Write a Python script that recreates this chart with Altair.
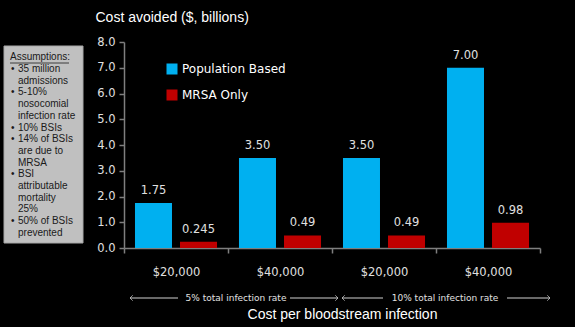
import altair as alt
import pandas as pd

# ---- data ----
groups = ["5%", "5%", "10%", "10%"]
costs = ["$20,000", "$40,000", "$20,000", "$40,000"]
population = [1.75, 3.50, 3.50, 7.00]
mrsa = [0.245, 0.49, 0.49, 0.98]
pop_labels = ["1.75", "3.50", "3.50", "7.00"]
mrsa_labels = ["0.245", "0.49", "0.49", "0.98"]
series = ["Population Based", "MRSA Only"]
colors = ["#00B0F0", "#C00000"]
y_ticks = [0, 1, 2, 3, 4, 5, 6, 7, 8]

assumption_lines = [
    "35 million", "admissions", "5-10%", "nosocomial", "infection rate",
    "10% BSIs", "14% of BSIs", "are due to", "MRSA", "BSI", "attributable",
    "mortality", "25%", "50% of BSIs", "prevented",
]
bullet_line_index = [0, 2, 5, 6, 9, 13]

cats = [f"{g}|{c}" for g, c in zip(groups, costs)]
rows = []
for i, cat in enumerate(cats):
    rows.append({"cat": cat, "series": series[0], "value": population[i], "label": pop_labels[i]})
    rows.append({"cat": cat, "series": series[1], "value": mrsa[i], "label": mrsa_labels[i]})
df = pd.DataFrame(rows)
one = pd.DataFrame({"k": [0]})

LABEL_COLOR = "#E0E0E0"
AXIS_COLOR = "#7F7F7F"

x_enc = alt.X(
    "cat:N", sort=cats,
    scale=alt.Scale(paddingInner=0, paddingOuter=0),
    axis=alt.Axis(
        labelExpr="split(datum.label, '|')[1]", labelAngle=0,
        tickBand="extent", tickSize=5, tickColor=AXIS_COLOR, domainColor=AXIS_COLOR,
        domainWidth=1.5, tickWidth=1.5,
        labelFont="DejaVu Sans", labelFontSize=11.5, labelColor=LABEL_COLOR, labelPadding=13,
        title="Cost per bloodstream infection", titleFont="Liberation Sans",
        titleFontSize=14, titleFontWeight="normal", titleColor="#FFFFFF",
        titleY=70, titleX=218, titleBaseline="alphabetic",
    ),
)
xoff = alt.XOffset("series:N", sort=series,
                   scale=alt.Scale(paddingInner=0.178, paddingOuter=0.244))
y_enc = alt.Y(
    "value:Q", scale=alt.Scale(domain=[0, 8], nice=False),
    axis=alt.Axis(
        values=y_ticks, format=".1f", grid=False, tickSize=5, labelOverlap=False,
        tickColor=AXIS_COLOR, domainColor=AXIS_COLOR, domainWidth=1.5, tickWidth=1.5,
        labelFont="DejaVu Sans", labelFontSize=11.5, labelColor=LABEL_COLOR, labelPadding=4,
        title="Cost avoided ($, billions)", titleAngle=0, titleX=-29, titleY=-21,
        titleAlign="left", titleBaseline="alphabetic", titleFont="Liberation Sans",
        titleFontSize=14, titleFontWeight="normal", titleColor="#FFFFFF",
    ),
)

bars = alt.Chart(df).mark_bar().encode(
    x=x_enc, xOffset=xoff, y=y_enc,
    color=alt.Color(
        "series:N", sort=series,
        scale=alt.Scale(domain=series, range=colors),
        legend=alt.Legend(
            title=None, orient="none", legendX=42, legendY=21,
            symbolType="square", symbolSize=121, symbolStrokeWidth=0,
            labelFont="DejaVu Sans", labelFontSize=12, labelColor="#FFFFFF",
            labelOffset=4, rowPadding=14,
        ),
    ),
)

labels = alt.Chart(df).mark_text(
    baseline="bottom", dy=-7, font="DejaVu Sans", fontSize=11.5, color=LABEL_COLOR
).encode(x=x_enc, xOffset=xoff, y=y_enc, text="label:N")

# Assumptions box
LH = 11.7
TOP = 22
box = alt.Chart(one).mark_rect(color="#C0C0C0", stroke="#A6A6A6", strokeWidth=1).encode(
    x=alt.value(-120), x2=alt.value(-41), y=alt.value(4), y2=alt.value(201)
)
header = alt.Chart(one).mark_text(
    text="Assumptions:", align="left", baseline="middle",
    font="Liberation Sans", fontSize=10, color="#1A1A1A"
).encode(x=alt.value(-114), y=alt.value(15))
underline = alt.Chart(one).mark_rule(color="#1A1A1A", strokeWidth=0.8).encode(
    x=alt.value(-114), x2=alt.value(-55), y=alt.value(21)
)
body = alt.Chart(one).mark_text(
    text=assumption_lines, align="left", baseline="top", lineHeight=LH,
    font="Liberation Sans", fontSize=10, color="#1A1A1A"
).encode(x=alt.value(-106), y=alt.value(TOP))
bullets = [
    alt.Chart(one).mark_text(
        text="•", align="left", baseline="top",
        font="Liberation Sans", fontSize=10, color="#1A1A1A"
    ).encode(x=alt.value(-113), y=alt.value(TOP + i * LH))
    for i in bullet_line_index
]

# Arrow annotations under the x axis
AY = 256
arrow_color = "#D0D0D0"
rules = []
for x1, x2 in [(6, 54), (166, 214), (218, 259), (383, 426)]:
    rules.append(alt.Chart(one).mark_rule(color=arrow_color, strokeWidth=1).encode(
        x=alt.value(x1), x2=alt.value(x2), y=alt.value(AY)))
heads = []
for xv, shape in [(6, "M1,-1L0,0L1,1"), (214, "M-1,-1L0,0L-1,1"),
                  (218, "M1,-1L0,0L1,1"), (426, "M-1,-1L0,0L-1,1")]:
    heads.append(alt.Chart(one).mark_point(
        shape=shape, filled=False, stroke=arrow_color, strokeWidth=1, size=30
    ).encode(x=alt.value(xv), y=alt.value(AY)))
arrow_texts = []
for xv, t in [(112, "5% total infection rate"), (321, "10% total infection rate")]:
    arrow_texts.append(alt.Chart(one).mark_text(
        text=t, align="center", baseline="middle", font="DejaVu Sans",
        fontSize=9, color="#E0E0E0"
    ).encode(x=alt.value(xv), y=alt.value(AY)))

chart = alt.layer(
    bars, labels, box, header, underline, body, *bullets, *rules, *heads, *arrow_texts
).properties(
    width=416, height=206,
    padding={"left": 124, "top": 42, "right": 35, "bottom": 79},
    autosize=alt.AutoSizeParams(type="none"),
    background="#000000",
).configure_view(stroke=None)

chart.save("out.html", embed_options={"renderer": "svg", "actions": False})
